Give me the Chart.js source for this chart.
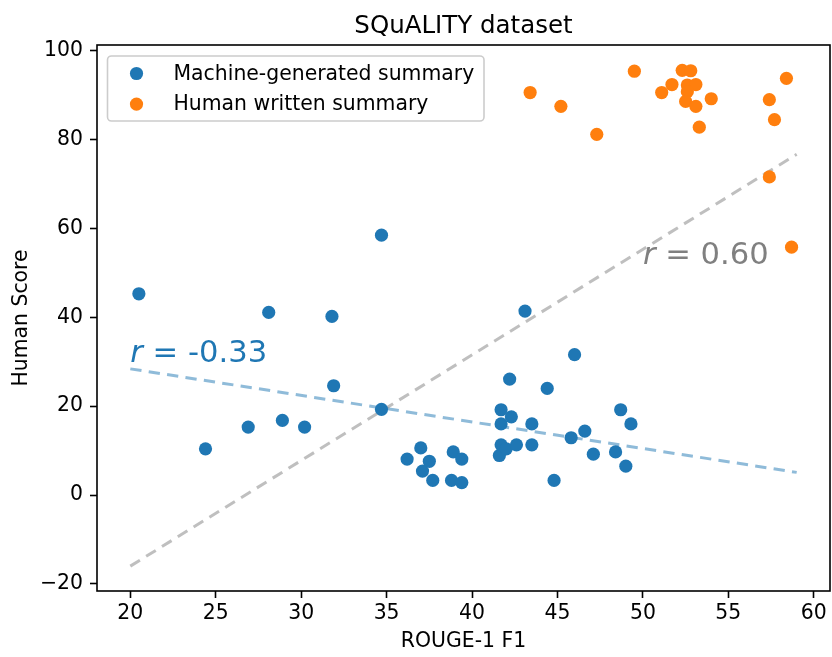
<!DOCTYPE html>
<html>
<head>
<meta charset="utf-8">
<script src="https://cdn.jsdelivr.net/npm/chart.js@4.4.0/dist/chart.umd.min.js"></script>
<style>
body { margin: 0; background: #fff; }
#myChart { display: block; }
</style>
</head>
<body>
<canvas id="myChart" width="832" height="657"></canvas>
<script>
// scatter values
const machineX = [20.5, 24.4, 26.9, 28.1, 28.9, 30.2, 31.8, 31.9, 34.7, 34.7,
    36.2, 37.0, 37.1, 37.5, 37.7, 38.8, 38.9, 39.4, 39.4, 41.6,
    41.7, 41.7, 41.7, 42.0, 42.2, 42.3, 42.6, 43.1, 43.5, 43.5,
    44.4, 44.8, 45.8, 46.0, 46.6, 47.1, 48.4, 48.7, 49.0, 49.3];
const machineY = [45.3, 10.4, 15.3, 41.1, 16.8, 15.3, 40.2, 24.6, 58.5, 19.3,
    8.1, 10.6, 5.4, 7.6, 3.3, 3.3, 9.7, 2.8, 8.1, 8.9,
    11.3, 16.0, 19.2, 10.4, 26.1, 17.6, 11.3, 41.4, 16.0, 11.3,
    24.0, 3.3, 12.9, 31.6, 14.4, 9.2, 9.7, 19.2, 6.5, 16.0];

const humanX = [43.4, 45.2, 47.3, 49.5, 51.1, 51.7, 52.3, 52.8, 52.6, 53.1,
    52.6, 52.5, 53.1, 54.0, 53.3, 57.4, 57.7, 58.4, 57.4, 58.7];
const humanY = [90.6, 87.5, 81.2, 95.4, 90.6, 92.4, 95.6, 95.5, 92.3, 92.4,
    90.8, 88.6, 87.5, 89.2, 82.8, 89.0, 84.5, 93.8, 71.6, 55.8];

// fitted lines (end points)
const fitX = [20, 59];
const machineFitY = [28.4, 5.1];
const allFitY = [-16.0, 76.7];

const xTicks = [20, 25, 30, 35, 40, 45, 50, 55, 60];
const yTicks = [-20, 0, 20, 40, 60, 80, 100];

const legendLabels = ['Machine-generated summary', 'Human written summary'];
const rLabels = [' = -0.33', ' = 0.60'];
const rPos = [[20, 30], [50, 52]];

const blue = '#1f77b4';
const orange = '#ff7f0e';
const font = 'DejaVu Sans';

function toPoints(xs, ys) {
    return xs.map((x, i) => ({ x: x, y: ys[i] }));
}

function tickText(v) {
    return v < 0 ? '\u2212' + Math.abs(v) : String(v);
}

const extras = {
    id: 'extras',
    afterDraw(chart) {
        const { ctx, chartArea: a, scales: { x, y } } = chart;
        ctx.save();

        // box round the axes
        ctx.strokeStyle = '#000';
        ctx.lineWidth = 1.6;
        ctx.strokeRect(a.left, a.top, a.right - a.left, a.bottom - a.top);

        // title over the plot area
        ctx.fillStyle = '#000';
        ctx.font = '24.5px "' + font + '"';
        ctx.textAlign = 'center';
        ctx.textBaseline = 'alphabetic';
        ctx.fillText('SQuALITY dataset', (a.left + a.right) / 2, 33.3);

        // r labels
        const rColors = [blue, '#808080'];
        ctx.textAlign = 'left';
        for (let i = 0; i < rLabels.length; i++) {
            const px = x.getPixelForValue(rPos[i][0]);
            const py = y.getPixelForValue(rPos[i][1]);
            ctx.fillStyle = rColors[i];
            ctx.font = 'italic 30.6px "' + font + '"';
            ctx.fillText('r', px, py);
            const w = ctx.measureText('r').width;
            ctx.font = '30.6px "' + font + '"';
            ctx.fillText(rLabels[i], px + w, py);
        }

        // legend
        const lx = a.left + 10.5, ly = a.top + 11, lw = 376.5, lh = 65;
        ctx.beginPath();
        ctx.roundRect(lx, ly, lw, lh, 4);
        ctx.fillStyle = 'rgba(255,255,255,0.8)';
        ctx.fill();
        ctx.strokeStyle = '#cccccc';
        ctx.lineWidth = 1.6;
        ctx.stroke();
        const colors = [blue, orange];
        ctx.font = '20.4px "' + font + '"';
        for (let i = 0; i < legendLabels.length; i++) {
            const base = ly + 23.5 + i * 30.6;
            ctx.fillStyle = colors[i];
            ctx.beginPath();
            ctx.arc(lx + 29, base - 6, 6.6, 0, Math.PI * 2);
            ctx.fill();
            ctx.fillStyle = '#000';
            ctx.fillText(legendLabels[i], lx + 66, base);
        }
        ctx.restore();
    }
};

let ctx = document.getElementById('myChart').getContext('2d');
let myChart = new Chart(ctx, {
    type: 'scatter',
    data: {
        datasets: [{
            label: legendLabels[0],
            data: toPoints(machineX, machineY),
            backgroundColor: blue,
            borderWidth: 0,
            pointRadius: 6.6,
            order: 1
        }, {
            label: legendLabels[1],
            data: toPoints(humanX, humanY),
            backgroundColor: orange,
            borderWidth: 0,
            pointRadius: 6.6,
            order: 0
        }, {
            type: 'line',
            data: toPoints(fitX, machineFitY),
            borderColor: 'rgba(31,119,180,0.5)',
            borderWidth: 3,
            borderDash: [11.3, 7.3],
            pointRadius: 0,
            fill: false,
            order: 3
        }, {
            type: 'line',
            data: toPoints(fitX, allFitY),
            borderColor: 'rgba(128,128,128,0.5)',
            borderWidth: 3,
            borderDash: [11.3, 7.3],
            pointRadius: 0,
            fill: false,
            order: 2
        }]
    },
    options: {
        responsive: false,
        animation: false,
        devicePixelRatio: 1,
        layout: { autoPadding: false, padding: { top: 45, right: 2, left: 0, bottom: 0 } },
        plugins: {
            legend: { display: false },
            tooltip: { enabled: false },
            title: { display: false }
        },
        scales: {
            x: {
                type: 'linear',
                min: 18.05,
                max: 60.95,
                afterBuildTicks: s => { s.ticks = xTicks.map(v => ({ value: v })); },
                afterFit: s => {
                    s.height = 66;
                    s.paddingLeft = 0;
                    s.paddingRight = 0;
                },
                ticks: {
                    color: '#000',
                    font: { family: font, size: 20.4 },
                    padding: 3,
                    maxRotation: 0,
                    callback: tickText
                },
                grid: { drawOnChartArea: false, tickLength: 7, tickWidth: 1.6, color: '#000' },
                border: { display: false },
                title: {
                    display: true,
                    text: 'ROUGE-1 F1',
                    color: '#000',
                    font: { family: font, size: 20.4 },
                    padding: { top: 0, bottom: 3.5 }
                }
            },
            y: {
                type: 'linear',
                min: -21.6,
                max: 101.3,
                afterBuildTicks: s => { s.ticks = yTicks.map(v => ({ value: v })); },
                afterFit: s => {
                    s.width = 97;
                    s.paddingTop = 0;
                    s.paddingBottom = 0;
                },
                ticks: {
                    color: '#000',
                    font: { family: font, size: 20.4 },
                    padding: 7,
                    callback: tickText
                },
                grid: { drawOnChartArea: false, tickLength: 7, tickWidth: 1.6, color: '#000' },
                border: { display: false },
                title: {
                    display: true,
                    text: 'Human Score',
                    color: '#000',
                    font: { family: font, size: 20.4 },
                    padding: { top: 9, bottom: 0 }
                }
            }
        }
    },
    plugins: [extras]
});
</script>
</body>
</html>
